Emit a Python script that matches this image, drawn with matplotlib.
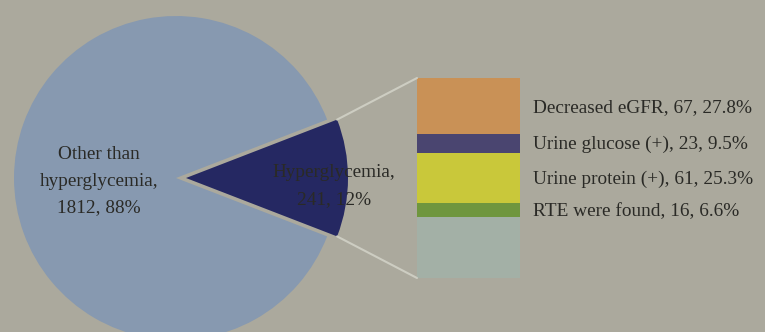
import math
import matplotlib
matplotlib.use("Agg")
import matplotlib.pyplot as plt
from matplotlib.patches import ConnectionPatch

# Overall split of the cohort
pie_labels = ["Hyperglycemia", "Other than\nhyperglycemia"]
pie_counts = [241, 1812]

# Breakdown of the hyperglycemia group
sub_labels = ["Decreased eGFR", "Urine glucose (+)", "Urine protein (+)", "RTE were found"]
sub_counts = [67, 23, 61, 16]
hyper_total = 241
sub_rest = hyper_total - sum(sub_counts)

W, H = 765, 332
bg = "#aba99d"
text_color = "#2a2a26"
font = ["Liberation Serif", "DejaVu Serif"]
fs = 13.9

fig = plt.figure(figsize=(W / 100, H / 100), dpi=100, facecolor=bg)
ax = fig.add_axes([0, 0, 1, 1])

# Pie, with the hyperglycemia slice pulled out to the right
total = sum(pie_counts)
start = -pie_counts[0] / total * 360 / 2
wedges, _ = ax.pie(
    pie_counts,
    colors=["#252862", "#8799b0"],
    startangle=start,
    center=(176, 154),
    radius=162,
    explode=[10, 0],
    wedgeprops=dict(edgecolor="none"),
    frame=True,
)
ax.set_xlim(0, W)
ax.set_ylim(0, H)
ax.set_aspect("equal")
ax.axis("off")

pcts = [c / total * 100 for c in pie_counts]
ax.text(99, 151, f"{pie_labels[1]},\n{pie_counts[1]}, {pcts[1]:.0f}%",
        ha="center", va="center", fontsize=fs, family=font,
        color=text_color, linespacing=1.75)
ax.text(334, 146, f"{pie_labels[0]},\n{pie_counts[0]}, {pcts[0]:.0f}%",
        ha="center", va="center", fontsize=fs, family=font,
        color=text_color, linespacing=1.75)

# Stacked bar for the breakdown
bx0, bx1, by0, by1 = 417, 520, 78, 278
bax = fig.add_axes([bx0 / W, 1 - by1 / H, (bx1 - bx0) / W, (by1 - by0) / H])
bax.set_xlim(-0.5, 0.5)
bax.set_ylim(0, hyper_total)
bax.axis("off")

seg_values = [sub_rest] + sub_counts[::-1]
seg_colors = ["#a3b0a6", "#6f963e", "#c9c83a", "#4a4570", "#c99156"]
bottom = 0
centers = []
for v, c in zip(seg_values, seg_colors):
    bax.bar(0, v, width=1, bottom=bottom, color=c, edgecolor="none")
    centers.append(bottom + v / 2)
    bottom += v

label_centers = centers[1:][::-1]
for name, cnt, yc in zip(sub_labels, sub_counts, label_centers):
    bax.text(0.63, yc - 2, f"{name}, {cnt}, {cnt / hyper_total * 100:.1f}%",
             ha="left", va="center", fontsize=fs, family=font,
             color=text_color, clip_on=False)

# Lines joining the slice to the bar
w = wedges[0]
cx, cy = w.center
r = w.r
for ang, yb in [(w.theta2, hyper_total), (w.theta1, 0)]:
    xa = cx + r * math.cos(math.radians(ang))
    ya = cy + r * math.sin(math.radians(ang))
    con = ConnectionPatch(xyA=(-0.5, yb), coordsA=bax.transData,
                          xyB=(xa, ya), coordsB=ax.transData,
                          color="#cdcdc2", linewidth=1.5)
    fig.add_artist(con)

fig.savefig("out.png", dpi=100, facecolor=bg)
